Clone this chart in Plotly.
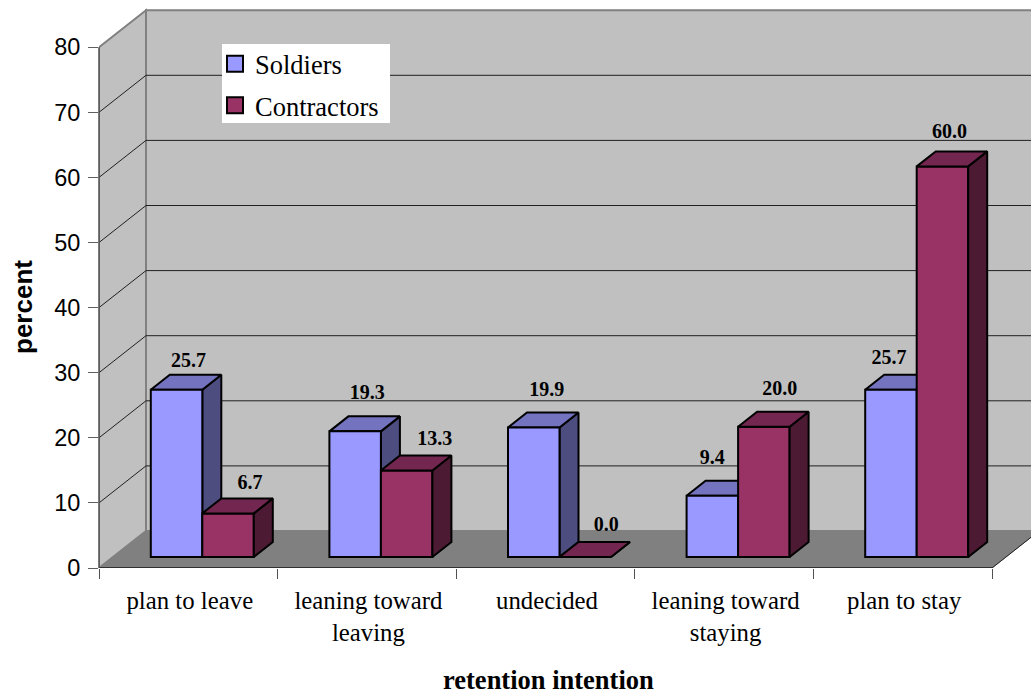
import plotly.graph_objects as go

# Survey results
categories = ["plan to leave", "leaning toward<br>leaving", "undecided",
              "leaning toward<br>staying", "plan to stay"]
soldiers = [25.7, 19.3, 19.9, 9.4, 25.7]
contractors = [6.7, 13.3, 0.0, 20.0, 60.0]
y_ticks = [0, 10, 20, 30, 40, 50, 60, 70, 80]

# Pixel scale of the axes, used to express the oblique projection in data units
LEFT = 99
BOTTOM = 568
TOP = 8
PX_X = 178.6
PX_Y = 6.51
WALL_DX, WALL_DY = 47 / PX_X, 37 / PX_Y      # full depth of the floor
GAP_DX, GAP_DY = 14 / PX_X, 11 / PX_Y        # bars stand this far behind the front edge
BAR_DX, BAR_DY = 19 / PX_X, 15 / PX_Y        # depth of one bar
BAR_W = 51.5 / PX_X
PLOT_W = 1031 - LEFT
PLOT_H = BOTTOM - TOP
X_MAX = PLOT_W / PX_X
Y_MAX = PLOT_H / PX_Y

SERIES_STYLE = {
    "Soldiers": dict(front="#9999FF", top="#7373BF", side="#4D4D80"),
    "Contractors": dict(front="#993366", top="#732650", side="#4D1A33"),
}
SERIF = "Liberation Serif, Times New Roman, serif"
SANS = "Liberation Sans, Arial, sans-serif"
CENTERS = [i + 0.5 for i in range(len(categories))]


def path(points):
    return "M" + " L".join(f"{x},{y}" for x, y in points) + " Z"


def paper_x(px):
    return (px - LEFT) / PLOT_W


def paper_y(px):
    return (BOTTOM - px) / PLOT_H


fig = go.Figure()

# Back wall, side wall, floor
WALL = "#C0C0C0"
EDGE = "#808080"
shapes = [
    dict(type="path", xref="x", yref="y", layer="below", fillcolor=WALL,
         line=dict(color=EDGE, width=2),
         path=path([(WALL_DX, WALL_DY), (WALL_DX, 80 + WALL_DY),
                    (X_MAX + 1, 80 + WALL_DY), (X_MAX + 1, WALL_DY)])),
    dict(type="path", xref="x", yref="y", layer="below", fillcolor=WALL,
         line=dict(color=EDGE, width=2),
         path=path([(0, 0), (WALL_DX, WALL_DY), (WALL_DX, 80 + WALL_DY), (0, 80)])),
    dict(type="path", xref="x", yref="y", layer="below", fillcolor="#808080",
         line=dict(color="#808080", width=1),
         path=path([(0, 0), (WALL_DX, WALL_DY), (X_MAX + 1, WALL_DY),
                    (5 + WALL_DX, WALL_DY), (5, 0)])),
]
for v in y_ticks[1:-1]:
    shapes.append(dict(type="line", xref="x", yref="y", layer="below",
                       x0=WALL_DX, x1=X_MAX + 1, y0=v + WALL_DY, y1=v + WALL_DY,
                       line=dict(color="#202020", width=1)))
    shapes.append(dict(type="line", xref="x", yref="y", layer="below",
                       x0=0, x1=WALL_DX, y0=v, y1=v + WALL_DY,
                       line=dict(color="#202020", width=1)))
# Floor's right edge, the front axis line and the vertical axis line
shapes.append(dict(type="line", xref="x", yref="y", x0=5, x1=5 + WALL_DX, y0=0, y1=WALL_DY,
                   line=dict(color="#202020", width=1)))
shapes.append(dict(type="line", xref="x", yref="y", x0=0, x1=5, y0=0, y1=0,
                   line=dict(color="#303030", width=2)))
shapes.append(dict(type="line", xref="paper", yref="y", x0=0, x1=0, y0=0, y1=80,
                   line=dict(color="#505050", width=1.5)))
# White panel behind the legend
shapes.append(dict(type="rect", xref="x", yref="y", layer="below",
                   x0=(222 - LEFT) / PX_X, x1=(390 - LEFT) / PX_X,
                   y0=(BOTTOM - 123) / PX_Y, y1=(BOTTOM - 44) / PX_Y,
                   fillcolor="white", line=dict(width=0)))


def add_series(name, values, offset, layer):
    style = SERIES_STYLE[name]
    # Front faces are real bars, resting on the raised base line
    fig.add_trace(go.Bar(
        name=name, showlegend=False,
        x=[c + GAP_DX for c in CENTERS], y=values, base=GAP_DY,
        width=BAR_W, offset=offset,
        marker=dict(color=style["front"], line=dict(color="black", width=2)),
        zorder=2, hoverinfo="skip",
    ))
    # Legend swatch for the series
    fig.add_trace(go.Scatter(
        name=name, legendgroup=name, x=[None], y=[None], mode="markers",
        marker=dict(symbol="square", size=17, color=style["front"],
                    line=dict(color="black", width=2)),
        hoverinfo="skip",
    ))
    # Top and side faces projected from each bar's value
    for c, v in zip(CENTERS, values):
        x0 = c + GAP_DX + offset
        x1 = x0 + BAR_W
        y0 = GAP_DY
        y1 = GAP_DY + v
        top_x = [x0, x0 + BAR_DX, x1 + BAR_DX, x1, x0]
        top_y = [y1, y1 + BAR_DY, y1 + BAR_DY, y1, y1]
        side_x = [x1, x1 + BAR_DX, x1 + BAR_DX, x1, x1]
        side_y = [y0, y0 + BAR_DY, y1 + BAR_DY, y1, y0]
        for xs, ys, color in ((side_x, side_y, style["side"]), (top_x, top_y, style["top"])):
            fig.add_trace(go.Scatter(
                x=xs, y=ys, mode="lines", fill="toself", fillcolor=color,
                line=dict(color="black", width=2), showlegend=False,
                hoverinfo="skip", zorder=layer,
            ))


add_series("Soldiers", soldiers, -BAR_W, 1)
add_series("Contractors", contractors, 0, 3)

# Value labels: horizontal and vertical nudges, in pixels, away from each bar's centre-top
soldier_nudge = [(12, 28), (12, 37), (13, 36), (0, 37), (-2, 31)]
contractor_nudge = [(22, 29), (28, 30), (21, 31), (16, 37), (7, 33)]


def add_labels(values, offset, nudges):
    fig.add_trace(go.Scatter(
        x=[c + GAP_DX + offset + BAR_W / 2 + n[0] / PX_X for c, n in zip(CENTERS, nudges)],
        y=[GAP_DY + v + n[1] / PX_Y for v, n in zip(values, nudges)],
        mode="text", text=[f"{v:.1f}" for v in values],
        textfont=dict(family=SERIF, size=20, color="black", weight="bold"),
        textposition="middle center", showlegend=False, hoverinfo="skip", zorder=4,
    ))


add_labels(soldiers, -BAR_W, soldier_nudge)
add_labels(contractors, 0, contractor_nudge)

fig.update_layout(
    width=1031, height=696, autosize=False,
    margin=dict(l=LEFT, r=0, t=TOP, b=696 - BOTTOM, pad=0),
    paper_bgcolor="white", plot_bgcolor="white",
    barmode="overlay", shapes=shapes,
    showlegend=True,
    legend=dict(x=paper_x(215), y=paper_y(40), xanchor="left", yanchor="top",
                bgcolor="rgba(0,0,0,0)", borderwidth=0, tracegroupgap=4,
                traceorder="grouped", itemclick=False, itemdoubleclick=False,
                font=dict(family=SERIF, size=26.5, color="black")),
    xaxis=dict(range=[0, X_MAX], tickmode="array",
               tickvals=[c + 1.5 / PX_X for c in CENTERS], ticktext=categories,
               ticks="outside", ticklen=10, tickcolor="rgba(0,0,0,0)", showgrid=False,
               zeroline=False, showline=False,
               tickfont=dict(family=SERIF, size=24.8, color="black"),
               minor=dict(tickmode="array", tickvals=[0, 1, 2, 3, 4, 5], ticks="outside",
                          ticklen=10, tickcolor="#505050", showgrid=False)),
    yaxis=dict(range=[0, Y_MAX], tickmode="array", tickvals=y_ticks,
               ticks="outside", ticklen=10, tickcolor="#606060", showgrid=False,
               zeroline=False, showline=False, ticklabelstandoff=3,
               tickfont=dict(family=SANS, size=23.5, color="black")),
    annotations=[
        dict(text="<b>retention intention</b>", xref="paper", yref="paper",
             x=paper_x(548), y=paper_y(680), xanchor="center", yanchor="middle",
             showarrow=False, font=dict(family=SERIF, size=26.5, color="black")),
        dict(text="<b>percent</b>", xref="paper", yref="paper",
             x=paper_x(23), y=paper_y(307), xanchor="center", yanchor="middle",
             textangle=-90, showarrow=False, font=dict(family=SANS, size=26, color="black")),
    ],
)

fig.write_html("out.html")
